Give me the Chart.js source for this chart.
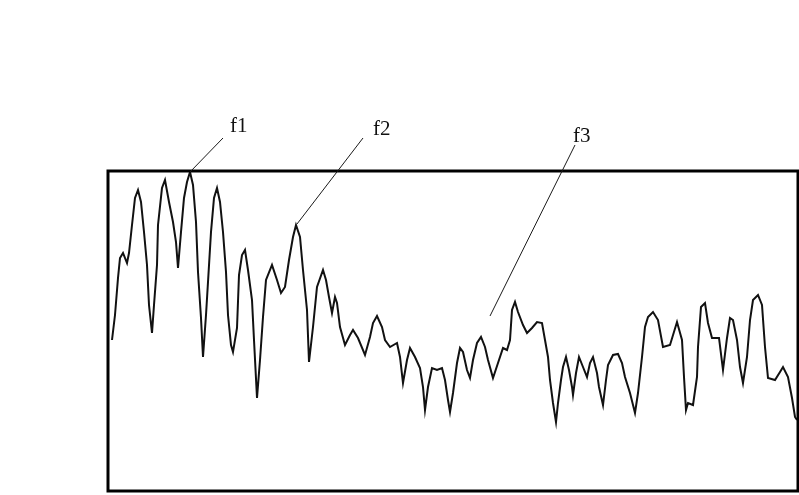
<!DOCTYPE html>
<html>
<head>
<meta charset="utf-8">
<script src="https://cdn.jsdelivr.net/npm/chart.js@4"></script>
<style>
  html, body { margin: 0; padding: 0; background: #ffffff; }
  #wrap { width: 799px; height: 495px; position: relative; }
</style>
</head>
<body>
<div id="wrap"><canvas id="c" width="799" height="495"></canvas></div>
<script>
// Signal samples: time index and amplitude (arbitrary units)
const sampleIndex = [
  4, 7, 10, 12, 15, 19, 21, 24, 27, 30, 33, 36, 39, 41, 44, 46, 49, 50, 54, 57,
  61, 65, 68, 70, 73, 76, 79, 82, 85, 88, 90, 93, 95, 98, 100, 103, 106, 109, 112, 115,
  118, 120, 123, 125, 129, 131, 134, 137, 140, 144, 146, 149, 152, 155, 158, 164, 169, 173, 177, 181,
  185, 188, 192, 195, 199, 201, 205, 209, 215, 218, 221, 224, 227, 229, 232, 237, 242, 245, 250, 257,
  262, 265, 269, 274, 277, 282, 289, 292, 295, 299, 302, 307, 312, 315, 317, 320, 324, 329, 334, 337,
  340, 342, 345, 349, 352, 355, 359, 362, 365, 369, 373, 377, 380, 385, 390, 395, 399, 402, 404, 407,
  410, 415, 419, 424, 429, 434, 437, 440, 442, 445, 448, 450, 453, 455, 458, 461, 464, 465, 468, 471,
  475, 479, 482, 485, 489, 491, 495, 498, 500, 505, 510, 514, 517, 522, 527, 530, 534, 537, 540, 545,
  550, 555, 562, 569, 574, 576, 578, 580, 585, 589, 590, 593, 597, 600, 604, 611, 615, 619, 622, 625,
  629, 632, 635, 639, 642, 645, 650, 654, 657, 660, 667, 672, 675, 680, 684, 687, 689
];
const amplitude = [
  151, 176, 213, 233, 238, 228, 238, 266, 293, 301, 289, 259, 226, 186, 158, 186, 226, 266, 303, 311,
  289, 269, 249, 223, 259, 293, 309, 319, 306, 269, 219, 173, 134, 176, 209, 259, 293, 303, 289, 259,
  219, 176, 146, 139, 163, 216, 236, 241, 221, 191, 151, 93, 131, 174, 211, 226, 211, 198, 204, 231,
  254, 266, 254, 221, 181, 129, 164, 204, 221, 211, 194, 178, 194, 188, 164, 146, 156, 161, 153, 136,
  154, 168, 175, 164, 151, 144, 148, 134, 108, 131, 143, 134, 123, 104, 81, 104, 123, 121, 123, 111,
  91, 79, 98, 128, 143, 139, 121, 113, 131, 148, 154, 144, 131, 113, 128, 143, 141, 151, 181, 189,
  179, 166, 158, 163, 169, 168, 151, 134, 111, 88, 69, 88, 111, 124, 134, 121, 104, 96, 118, 134,
  124, 114, 128, 134, 118, 104, 86, 111, 126, 136, 137, 128, 114, 98, 78, 98, 134, 164, 174, 179,
  171, 144, 146, 169, 151, 114, 81, 88, 86, 114, 144, 184, 188, 168, 153, 153, 121, 153, 173, 171,
  151, 124, 108, 134, 171, 191, 196, 186, 144, 113, 111, 119, 124, 114, 93, 74, 71
];

// Labelled features: name, marked point, label anchor (baseline, left) and leader start
const featureNames  = ['f1', 'f2', 'f3'];
const featureX      = [82, 189, 382];
const featureY      = [319, 267, 175];
const labelX        = [122, 265, 465];
const labelY        = [359, 356, 349];
const leaderStartX  = [115, 255, 467];
const leaderStartY  = [353, 353, 346];

const points = sampleIndex.map((t, i) => ({ x: t, y: amplitude[i] }));

// Heavy frame around the plotting area
const framePlugin = {
  id: 'frame',
  afterDraw(chart) {
    const { ctx, chartArea: a } = chart;
    ctx.save();
    ctx.strokeStyle = '#000000';
    ctx.lineWidth = 3;
    ctx.strokeRect(a.left, a.top, a.right - a.left, a.bottom - a.top);
    ctx.restore();
  }
};

// Feature labels with thin leader lines
const featurePlugin = {
  id: 'features',
  afterDraw(chart) {
    const { ctx, scales: { x, y } } = chart;
    ctx.save();
    ctx.strokeStyle = '#1a1a1a';
    ctx.lineWidth = 1;
    ctx.fillStyle = '#111111';
    ctx.font = '21px "Liberation Serif", "DejaVu Serif", serif';
    ctx.textAlign = 'left';
    ctx.textBaseline = 'alphabetic';
    featureNames.forEach((name, i) => {
      ctx.beginPath();
      ctx.moveTo(x.getPixelForValue(leaderStartX[i]), y.getPixelForValue(leaderStartY[i]));
      ctx.lineTo(x.getPixelForValue(featureX[i]), y.getPixelForValue(featureY[i]));
      ctx.stroke();
      ctx.fillText(name, x.getPixelForValue(labelX[i]), y.getPixelForValue(labelY[i]));
    });
    ctx.restore();
  }
};

new Chart(document.getElementById('c'), {
  type: 'line',
  data: {
    datasets: [{
      data: points,
      borderColor: '#111111',
      borderWidth: 2,
      pointRadius: 0,
      tension: 0,
      fill: false
    }]
  },
  options: {
    responsive: false,
    animation: false,
    events: [],
    layout: { padding: { left: 108, top: 171, right: 1, bottom: 4 } },
    plugins: { legend: { display: false }, tooltip: { enabled: false } },
    scales: {
      x: { type: 'linear', min: 0, max: 690, display: false },
      y: { type: 'linear', min: 0, max: 320, display: false }
    }
  },
  plugins: [framePlugin, featurePlugin]
});
</script>
</body>
</html>
